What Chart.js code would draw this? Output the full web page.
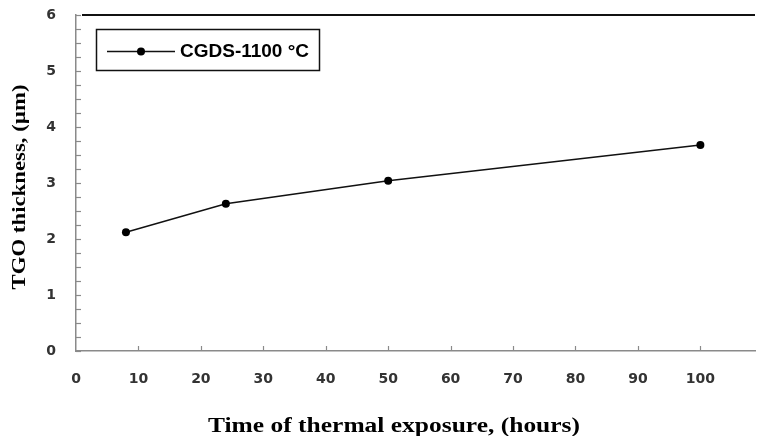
<!DOCTYPE html>
<html>
<head>
<meta charset="utf-8">
<script src="https://cdn.jsdelivr.net/npm/chart.js@4"></script>
<style>
  html, body { margin: 0; padding: 0; background: #fff; overflow: hidden; }
  #wrap { width: 759px; height: 436px; }
</style>
</head>
<body>
<div id="wrap"><canvas id="tgoChart"></canvas></div>
<script>
  // data
  const hours = [8, 24, 50, 100];
  const thickness = [2.12, 2.63, 3.04, 3.68];
  const seriesLabel = 'CGDS-1100 °C';
  const xTitle = 'Time of thermal exposure, (hours)';
  const yTitle = 'TGO thickness, (µm)';

  const axisGray = '#8a8a8a';
  const tickFont = { family: 'DejaVu Sans', size: 14, weight: 'bold' };

  // inside tick marks, top frame line, legend box and axis titles
  const decor = {
    id: 'decor',
    afterDraw(chart) {
      const c = chart.ctx;
      const a = chart.chartArea;
      const xs = chart.scales.x, ys = chart.scales.y;
      c.save();
      c.strokeStyle = axisGray;
      c.lineWidth = 1.2;
      ys.ticks.forEach(t => {
        const py = Math.round(ys.getPixelForValue(t.value)) + 0.5;
        c.beginPath(); c.moveTo(a.left, py); c.lineTo(a.left + 5, py); c.stroke();
      });
      xs.ticks.forEach(t => {
        if (t.value === 0) return;
        const px = Math.round(xs.getPixelForValue(t.value)) + 0.5;
        c.beginPath(); c.moveTo(px, a.bottom); c.lineTo(px, a.bottom - 5); c.stroke();
      });
      // top frame
      c.strokeStyle = '#111';
      c.lineWidth = 2;
      c.beginPath(); c.moveTo(a.left + 6, a.top); c.lineTo(a.right, a.top); c.stroke();

      // legend
      c.strokeStyle = '#111';
      c.lineWidth = 1.5;
      c.strokeRect(96.5, 29.5, 223, 41);
      c.beginPath(); c.moveTo(107, 51.5); c.lineTo(175, 51.5); c.stroke();
      c.fillStyle = '#000';
      c.beginPath(); c.arc(141, 51.5, 4, 0, Math.PI * 2); c.fill();
      c.font = 'bold 19px "Liberation Sans", Arial, sans-serif';
      c.textBaseline = 'middle';
      c.textAlign = 'left';
      c.fillText(seriesLabel, 180, 52);

      // axis titles
      c.font = 'bold 20px "Liberation Serif", "Times New Roman", serif';
      c.textAlign = 'center';
      c.textBaseline = 'alphabetic';
      let w = c.measureText(xTitle).width;
      c.save();
      c.translate(394, 432);
      c.scale(372 / w, 1);
      c.fillText(xTitle, 0, 0);
      c.restore();

      c.font = 'bold 19px "Liberation Serif", "Times New Roman", serif';
      w = c.measureText(yTitle).width;
      c.save();
      c.translate(25, 187);
      c.rotate(-Math.PI / 2);
      c.scale(205 / w, 1);
      c.fillText(yTitle, 0, 0);
      c.restore();
      c.restore();
    }
  };

  new Chart(document.getElementById('tgoChart'), {
    type: 'line',
    data: {
      datasets: [{
        label: seriesLabel,
        data: hours.map((h, i) => ({ x: h, y: thickness[i] })),
        borderColor: '#111',
        borderWidth: 1.5,
        backgroundColor: '#000',
        pointRadius: 4,
        pointBorderWidth: 0,
        tension: 0
      }]
    },
    options: {
      animation: false,
      responsive: true,
      maintainAspectRatio: false,
      layout: { padding: { top: 15, right: 0, left: 0, bottom: 0 } },
      scales: {
        x: {
          type: 'linear',
          min: 0,
          max: 108.75,
          grid: { display: false },
          border: { color: axisGray, width: 1.5 },
          ticks: { stepSize: 10, includeBounds: false, padding: 12, color: '#333', font: tickFont, maxRotation: 0 },
          afterFit(s) { s.height = 85; s.paddingLeft = 0; s.paddingRight = 0; }
        },
        y: {
          min: 0,
          max: 6,
          grid: { display: false },
          border: { color: axisGray, width: 1.5 },
          ticks: {
            stepSize: 0.25,
            autoSkip: false,
            padding: 12,
            color: '#333',
            font: tickFont,
            callback: v => (v % 1 === 0 ? v : '')
          },
          afterFit(s) { s.width = 76; s.paddingTop = 0; s.paddingBottom = 0; }
        }
      },
      plugins: {
        legend: { display: false },
        tooltip: { enabled: false }
      }
    },
    plugins: [decor]
  });
</script>
</body>
</html>
